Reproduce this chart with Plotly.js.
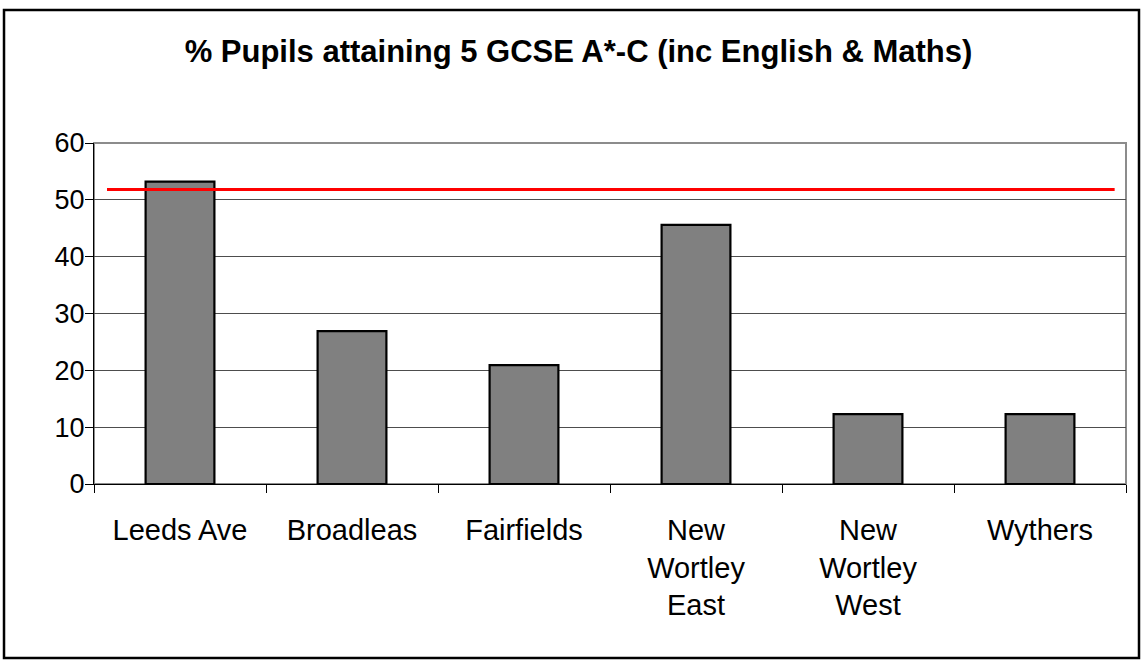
<!DOCTYPE html>
<html>
<head>
<meta charset="utf-8">
<script src="https://cdn.plot.ly/plotly-3.0.1.min.js"></script>
<style>
  body { margin: 0; background: #fff; }
  #chart { width: 1141px; height: 660px; }
</style>
</head>
<body>
<div id="chart"></div>
<script>
// School names (x categories) and % pupils attaining 5 A*-C incl. English & Maths
var schools = ['Leeds Ave', 'Broadleas', 'Fairfields', 'New<br>Wortley<br>East', 'New<br>Wortley<br>West', 'Wythers'];
var attainment = [53.2, 26.9, 20.9, 45.6, 12.3, 12.3];

// Benchmark line (the red line across the chart)
var benchmark = [51.8];

var yTicks = [0, 10, 20, 30, 40, 50, 60];

var font = 'Liberation Sans, Arial, sans-serif';

var trace = {
    x: schools,
    y: attainment,
    type: 'bar',
    marker: {
        color: '#808080',
        line: { color: '#000000', width: 2.2 }
    },
    hoverinfo: 'x+y'
};

var layout = {
    width: 1141,
    height: 660,
    margin: { l: 94, r: 15, t: 143, b: 176 },
    paper_bgcolor: '#ffffff',
    plot_bgcolor: '#ffffff',
    showlegend: false,
    bargap: 0.6,
    font: { family: font, color: '#000000', size: 27 },
    title: {
        text: '<b>% Pupils attaining 5 GCSE A*-C (inc English & Maths)</b>',
        font: { family: font, size: 31, color: '#000000' },
        x: 0.507,
        xanchor: 'center',
        xref: 'container',
        y: 0.923,
        yanchor: 'middle',
        yref: 'container'
    },
    xaxis: {
        type: 'category',
        showgrid: false,
        showline: true,
        linecolor: '#000000',
        linewidth: 1,
        ticks: 'outside',
        tickson: 'boundaries',
        ticklen: 8,
        tickcolor: '#000000',
        ticklabelstandoff: 20,
        tickfont: { family: font, size: 29, color: '#000000' },
        fixedrange: true
    },
    yaxis: {
        range: [0, 60],
        tickvals: yTicks,
        showgrid: true,
        gridcolor: '#4d4d4d',
        gridwidth: 1,
        zeroline: false,
        showline: true,
        linecolor: '#000000',
        linewidth: 1,
        ticks: 'outside',
        ticklen: 8,
        tickcolor: '#000000',
        ticklabelstandoff: -5,
        tickfont: { family: font, size: 27, color: '#000000' },
        fixedrange: true
    },
    shapes: [
        // plot area border (grey, top and right visible)
        {
            type: 'rect', xref: 'paper', yref: 'paper',
            x0: 0, x1: 1, y0: 0, y1: 1,
            line: { color: '#8c8c8c', width: 2 },
            layer: 'below'
        },
        // benchmark line
        {
            type: 'line', xref: 'paper', yref: 'y',
            x0: 0.0126, x1: 0.989,
            y0: benchmark[0], y1: benchmark[0],
            line: { color: '#ff0000', width: 3 },
            layer: 'above'
        },
        // outer chart frame
        {
            type: 'rect', xref: 'paper', yref: 'paper',
            x0: -0.0872, x1: 1.0126, y0: -0.51, y1: 1.39,
            line: { color: '#000000', width: 2.5 }
        }
    ]
};

Plotly.newPlot('chart', [trace], layout, { displayModeBar: false, staticPlot: true });
</script>
</body>
</html>
